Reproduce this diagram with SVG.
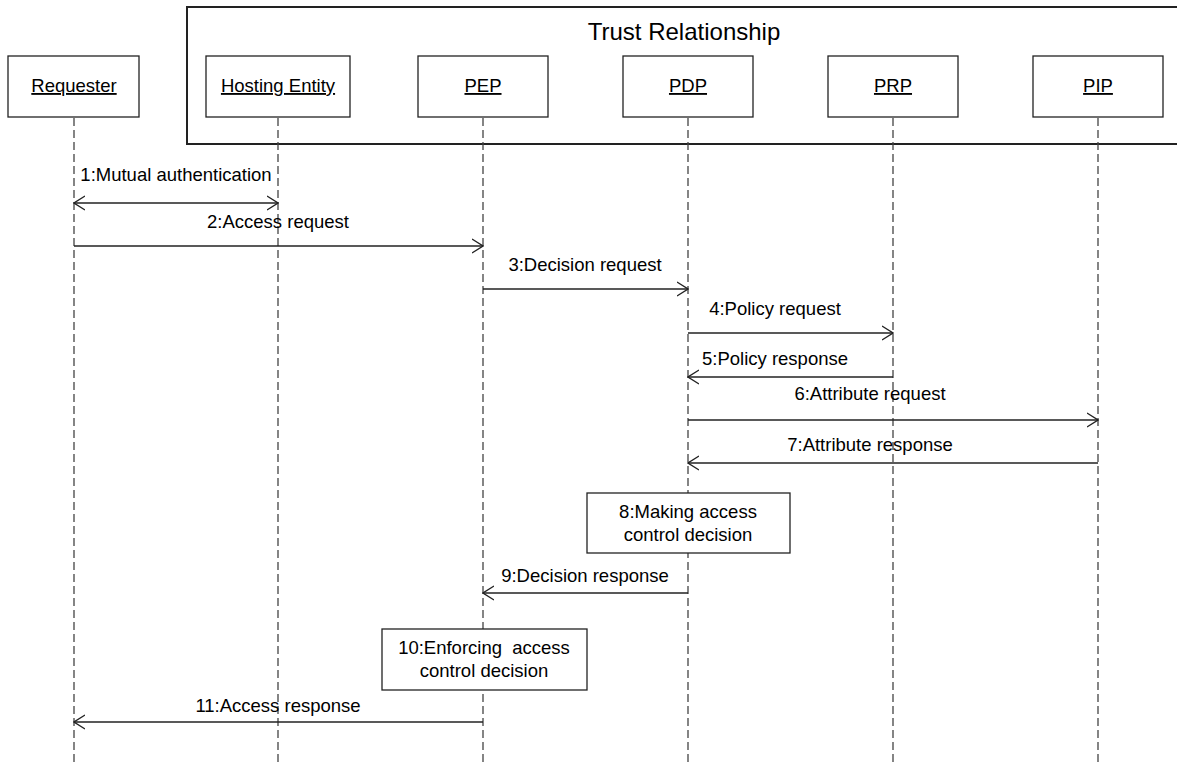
<svg xmlns="http://www.w3.org/2000/svg" width="1177" height="764" viewBox="0 0 1177 764">
<defs>
<style>
text{font-family:"Liberation Sans",Arial,sans-serif;fill:#000}
.lbl{font-size:18.5px;text-anchor:middle;text-decoration:underline}
.msg{font-size:18.5px;text-anchor:middle}
.box{fill:#fff;stroke:#222;stroke-width:1.3}
.life{stroke:#444;stroke-width:1.3;stroke-dasharray:8 4;fill:none}
.arr{stroke:#222;stroke-width:1.3;fill:none}
</style>
<marker id="ah" viewBox="0 0 12 16" refX="11" refY="8" markerWidth="12" markerHeight="16" markerUnits="userSpaceOnUse" orient="auto-start-reverse">
<path d="M0,1 L11,8 L0,15" fill="none" stroke="#222" stroke-width="1.3"/>
</marker>
</defs>
<rect width="1177" height="764" fill="#fff"/>
<g id="trust">
<rect x="187" y="7" width="996" height="137" fill="none" stroke="#222" stroke-width="2"/>
<text x="684" y="40" style="font-size:24px;text-anchor:middle">Trust Relationship</text>
</g>
<g id="lifelines">
<line class="life" x1="74" y1="118" x2="74" y2="764"/>
<line class="life" x1="278" y1="118" x2="278" y2="764"/>
<line class="life" x1="483" y1="118" x2="483" y2="764"/>
<line class="life" x1="688" y1="118" x2="688" y2="764"/>
<line class="life" x1="893" y1="118" x2="893" y2="764"/>
<line class="life" x1="1098" y1="118" x2="1098" y2="764"/>
</g>
<g id="requester"><rect class="box" x="8" y="56" width="131" height="61"/><text class="lbl" x="74" y="92">Requester</text></g>
<g id="hosting"><rect class="box" x="206" y="56" width="144" height="61"/><text class="lbl" x="278" y="92">Hosting Entity</text></g>
<g id="pep"><rect class="box" x="418" y="56" width="130" height="61"/><text class="lbl" x="483" y="92">PEP</text></g>
<g id="pdp"><rect class="box" x="623" y="56" width="130" height="61"/><text class="lbl" x="688" y="92">PDP</text></g>
<g id="prp"><rect class="box" x="828" y="56" width="130" height="61"/><text class="lbl" x="893" y="92">PRP</text></g>
<g id="pip"><rect class="box" x="1033" y="56" width="130" height="61"/><text class="lbl" x="1098" y="92">PIP</text></g>
<g id="step8"><rect class="box" x="587" y="493" width="203" height="60"/><text class="msg" x="688" y="518">8:Making access</text><text class="msg" x="688" y="541">control decision</text></g>
<g id="step10"><rect class="box" x="382" y="629" width="205" height="61"/><text class="msg" x="484" y="654" xml:space="preserve">10:Enforcing  access</text><text class="msg" x="484" y="677">control decision</text></g>
<g id="connectors">
<line class="arr" x1="74" y1="203" x2="278" y2="203" marker-start="url(#ah)" marker-end="url(#ah)"/>
<line class="arr" x1="74" y1="246" x2="483" y2="246" marker-end="url(#ah)"/>
<line class="arr" x1="483" y1="289" x2="688" y2="289" marker-end="url(#ah)"/>
<line class="arr" x1="688" y1="333" x2="893" y2="333" marker-end="url(#ah)"/>
<line class="arr" x1="893" y1="377" x2="688" y2="377" marker-end="url(#ah)"/>
<line class="arr" x1="688" y1="420" x2="1098" y2="420" marker-end="url(#ah)"/>
<line class="arr" x1="1098" y1="463" x2="688" y2="463" marker-end="url(#ah)"/>
<line class="arr" x1="688" y1="593" x2="483" y2="593" marker-end="url(#ah)"/>
<line class="arr" x1="483" y1="722" x2="74" y2="722" marker-end="url(#ah)"/>
</g>
<g id="labels">
<text class="msg" x="176" y="181">1:Mutual authentication</text>
<text class="msg" x="278" y="228">2:Access request</text>
<text class="msg" x="585" y="271">3:Decision request</text>
<text class="msg" x="775" y="315">4:Policy request</text>
<text class="msg" x="775" y="365">5:Policy response</text>
<text class="msg" x="870" y="400">6:Attribute request</text>
<text class="msg" x="870" y="451">7:Attribute response</text>
<text class="msg" x="585" y="582">9:Decision response</text>
<text class="msg" x="278" y="712">11:Access response</text>
</g>
</svg>
